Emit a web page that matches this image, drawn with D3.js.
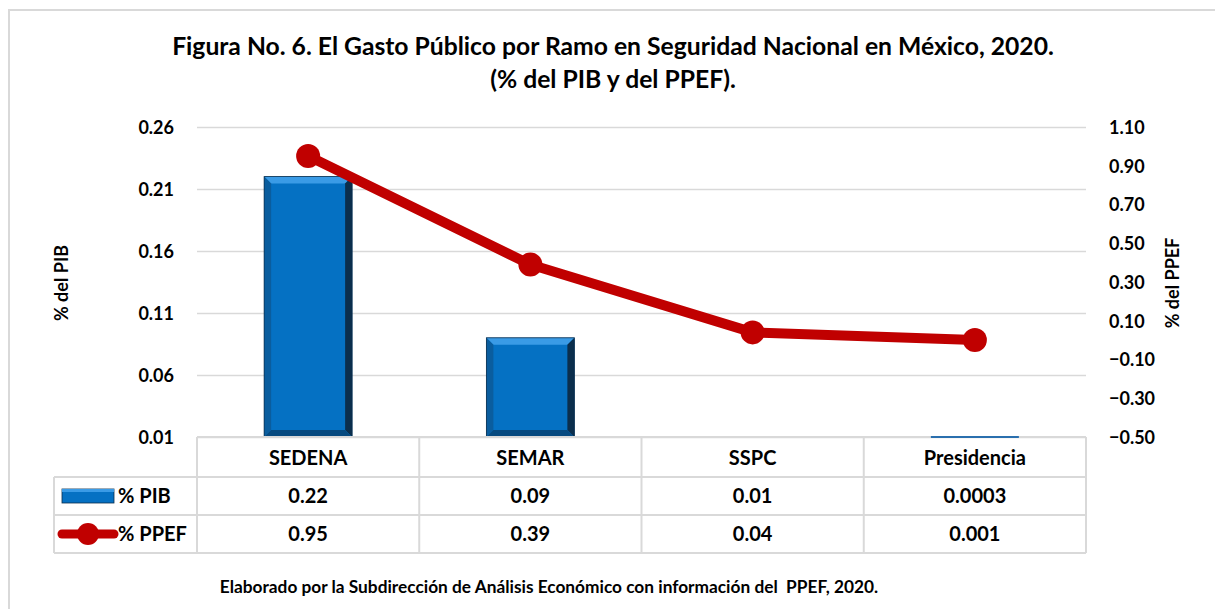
<!DOCTYPE html>
<html>
<head>
  <meta charset="utf-8">
  <script src="https://d3js.org/d3.v7.min.js"></script>
  <style>
    body { margin: 0; background: #fff; }
    svg text { font-family: Lato, "Open Sans", sans-serif; font-weight: bold; fill: #000; }
  </style>
</head>
<body>
<script>
  // chart values
  var categories = ["SEDENA", "SEMAR", "SSPC", "Presidencia"];
  var pibValues = [0.22, 0.09, 0.01, 0.0003];
  var ppefValues = [0.95, 0.39, 0.04, 0.001];
  var pibTicks = [0.01, 0.06, 0.11, 0.16, 0.21, 0.26];
  var ppefTicks = [-0.5, -0.3, -0.1, 0.1, 0.3, 0.5, 0.7, 0.9, 1.1];
  var pibLabels = ["0.22", "0.09", "0.01", "0.0003"];
  var ppefLabels = ["0.95", "0.39", "0.04", "0.001"];

  var W = 1215, H = 609;
  var plotL = 197, plotR = 1086, plotT = 127, plotB = 437;
  var rowH = [40, 38, 38];
  var legendLeft = 54;
  var grid = "#D9D9D9";

  var svg = d3.select("body").append("svg")
      .attr("width", W).attr("height", H);

  // outer frame
  svg.append("path")
      .attr("d", "M9," + H + "V10H" + W)
      .attr("fill", "none").attr("stroke", grid).attr("stroke-width", 2);

  // title
  var title = svg.append("text").attr("text-anchor", "middle")
      .style("font-size", "24.7px");
  title.append("tspan").attr("x", 613).attr("y", 55)
      .text("Figura No. 6. El Gasto Público por Ramo en Seguridad Nacional en México, 2020.");
  title.append("tspan").attr("x", 613).attr("y", 88)
      .text("(% del PIB y del PPEF).");

  var x = d3.scaleBand().domain(categories).range([plotL, plotR]).padding(0);
  var yL = d3.scaleLinear().domain([0.01, 0.26]).range([plotB, plotT]);
  var yR = d3.scaleLinear().domain([-0.5, 1.1]).range([plotB, plotT]);

  // gridlines
  svg.append("g").attr("transform", "translate(" + plotL + ",0)")
      .call(d3.axisLeft(yL).tickValues(pibTicks).tickSize(-(plotR - plotL)).tickFormat(""))
      .call(function(g) {
        g.select(".domain").remove();
        g.selectAll("line").attr("stroke", grid).attr("stroke-width", 1.6);
      });

  // left axis labels
  svg.append("g").attr("transform", "translate(" + (plotL - 20) + ",0)")
      .call(d3.axisLeft(yL).tickValues(pibTicks).tickSize(0).tickFormat(d3.format(".2f")))
      .call(function(g) {
        g.select(".domain").remove();
        g.selectAll("text").style("font-size", "18px").attr("dy", "0.35em")
          .attr("font-family", null);
      });

  // right axis labels
  svg.append("g").attr("transform", "translate(" + (plotR + 20) + ",0)")
      .call(d3.axisRight(yR).tickValues(ppefTicks).tickSize(0).tickFormat(d3.format(".2f")))
      .call(function(g) {
        g.select(".domain").remove();
        g.selectAll("text").style("font-size", "18px").attr("dy", "0.35em")
          .attr("font-family", null);
      });

  svg.append("text").attr("transform", "translate(68,283) rotate(-90)")
      .attr("text-anchor", "middle").style("font-size", "18px").text("% del PIB");
  svg.append("text").attr("transform", "translate(1179,283) rotate(-90)")
      .attr("text-anchor", "middle").style("font-size", "18px").text("% del PPEF");

  // bevelled bars
  var defs = svg.append("defs");
  defs.append("clipPath").attr("id", "plot")
    .append("rect").attr("x", plotL).attr("y", plotT - 30)
      .attr("width", plotR - plotL).attr("height", plotB - plotT + 30);

  var bw = 88, bev = 7;
  var bars = svg.append("g").attr("clip-path", "url(#plot)");
  var slivers = [];
  var pts = function(a) { return a.map(function(p) { return p.join(","); }).join(" "); };
  categories.forEach(function(c, i) {
    var x0 = x(c) + x.bandwidth() / 2 - bw / 2, x1 = x0 + bw;
    var y0 = yL(pibValues[i]), y1 = yL(0.01);
    var t = Math.min(y0, y1), b = Math.max(y0, y1);
    if (b - t < 0.5) return;
    if (y0 > y1) {
      // value below the axis floor: only the edge shows on the table line
      slivers.push(x0);
      return;
    }
    var g = bars.append("g");
    g.append("rect").attr("x", x0).attr("y", t).attr("width", bw).attr("height", b - t)
        .attr("fill", "#0571C3");
    g.append("polygon").attr("fill", "#3A9BE6")
        .attr("points", pts([[x0, t], [x1, t], [x1 - bev, t + bev], [x0 + bev, t + bev]]));
    g.append("polygon").attr("fill", "#0A5D9E")
        .attr("points", pts([[x0, t], [x0 + bev, t + bev], [x0 + bev, b - bev], [x0, b]]));
    g.append("polygon").attr("fill", "#0B2E4C")
        .attr("points", pts([[x1, t], [x1, b], [x1 - bev, b - bev], [x1 - bev, t + bev]]));
    g.append("polygon").attr("fill", "#064A80")
        .attr("points", pts([[x0, b], [x0 + bev, b - bev], [x1 - bev, b - bev], [x1, b]]));
    g.append("rect").attr("x", x0).attr("y", t).attr("width", bw).attr("height", b - t)
        .attr("fill", "none").attr("stroke", "#0B2E4C").attr("stroke-width", 0.8);
  });

  // PPEF line
  var red = "#C00000";
  var cx = function(c) { return x(c) + x.bandwidth() / 2; };
  var line = d3.line()
      .x(function(d, i) { return cx(categories[i]); })
      .y(function(d) { return yR(d); });
  svg.append("path").datum(ppefValues).attr("d", line)
      .attr("fill", "none").attr("stroke", red).attr("stroke-width", 10)
      .attr("stroke-linejoin", "round").attr("stroke-linecap", "round");
  svg.selectAll(".dot").data(ppefValues).enter().append("circle")
      .attr("cx", function(d, i) { return cx(categories[i]); })
      .attr("cy", function(d) { return yR(d); })
      .attr("r", 12).attr("fill", red);

  // data table
  var r1 = plotB, r2 = r1 + rowH[0], r3 = r2 + rowH[1], r4 = r3 + rowH[2];
  var tbl = svg.append("g").attr("stroke", grid).attr("stroke-width", 2).attr("fill", "none");
  tbl.append("line").attr("x1", plotL).attr("x2", plotR).attr("y1", r1).attr("y2", r1);
  [r2, r3, r4].forEach(function(y) {
    tbl.append("line").attr("x1", legendLeft).attr("x2", plotR).attr("y1", y).attr("y2", y);
  });
  tbl.append("line").attr("x1", legendLeft).attr("x2", legendLeft).attr("y1", r2).attr("y2", r4);
  categories.forEach(function(c) {
    tbl.append("line").attr("x1", x(c)).attr("x2", x(c)).attr("y1", r1).attr("y2", r4);
  });
  tbl.append("line").attr("x1", plotR).attr("x2", plotR).attr("y1", r1).attr("y2", r4);

  slivers.forEach(function(x0) {
    svg.append("rect").attr("x", x0).attr("y", r1 - 1).attr("width", bw).attr("height", 2)
        .attr("fill", "#2A6FAE");
  });

  svg.selectAll(".cat").data(categories).enter().append("text")
      .attr("x", cx).attr("y", (r1 + r2) / 2 + 1).attr("dy", "0.35em")
      .attr("text-anchor", "middle").style("font-size", "20px").text(function(d) { return d; });
  svg.selectAll(".pib").data(pibLabels).enter().append("text")
      .attr("x", function(d, i) { return cx(categories[i]); }).attr("y", (r2 + r3) / 2).attr("dy", "0.35em")
      .attr("text-anchor", "middle").style("font-size", "20px").text(function(d) { return d; });
  svg.selectAll(".ppef").data(ppefLabels).enter().append("text")
      .attr("x", function(d, i) { return cx(categories[i]); }).attr("y", (r3 + r4) / 2).attr("dy", "0.35em")
      .attr("text-anchor", "middle").style("font-size", "20px").text(function(d) { return d; });

  // legend keys
  var ky = (r2 + r3) / 2;
  svg.append("rect").attr("x", 62).attr("y", ky - 7).attr("width", 52).attr("height", 14)
      .attr("fill", "#0571C3").attr("stroke", "#0B2E4C").attr("stroke-width", 0.8);
  svg.append("rect").attr("x", 62).attr("y", ky - 7).attr("width", 52).attr("height", 3)
      .attr("fill", "#3A9BE6");
  svg.append("text").attr("x", 118).attr("y", ky).attr("dy", "0.35em")
      .style("font-size", "20px").text("% PIB");
  var ly = (r3 + r4) / 2;
  svg.append("line").attr("x1", 62).attr("x2", 114).attr("y1", ly).attr("y2", ly)
      .attr("stroke", red).attr("stroke-width", 9).attr("stroke-linecap", "round");
  svg.append("circle").attr("cx", 88).attr("cy", ly).attr("r", 11).attr("fill", red);
  svg.append("text").attr("x", 118).attr("y", ly).attr("dy", "0.35em")
      .style("font-size", "20px").text("% PPEF");

  // source note
  svg.append("text").attr("x", 549).attr("y", 593).attr("text-anchor", "middle")
      .style("font-size", "17.3px").style("white-space", "pre")
      .text("Elaborado por la Subdirección de Análisis Económico con información del  PPEF, 2020.");
</script>
</body>
</html>
